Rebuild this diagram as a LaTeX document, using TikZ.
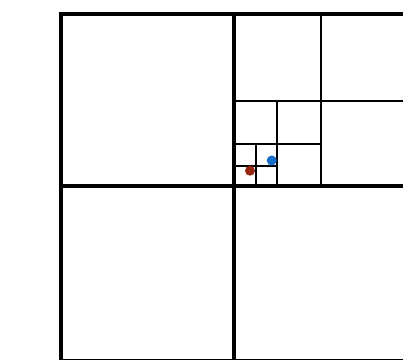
\documentclass[tikz,border=0pt]{standalone}
\definecolor{dotblue}{RGB}{22,110,200}
\definecolor{dotred}{RGB}{150,38,18}
\tikzset{
  thickline/.style={line width=3.6pt, line cap=rect},
  thinline/.style={line width=2pt},
  dot/.style={circle, inner sep=0pt, minimum size=10pt}
}
\begin{document}
\begin{tikzpicture}[x=1pt,y=-1pt]
\useasboundingbox (0,0) rectangle (403,359);
\fill[white] (0,0) rectangle (403,359);
\begin{scope}
\clip (0,0) rectangle (403,359);
% finer subdivisions
\draw[thinline] (320.5,14) -- (320.5,186);
\draw[thinline] (234,100.5) -- (407,100.5);
\draw[thinline] (277,100.5) -- (277,186);
\draw[thinline] (234,143.5) -- (320.5,143.5);
\draw[thinline] (255.7,143.5) -- (255.7,186);
\draw[thinline] (234,166) -- (277,166);
% main grid
\draw[thickline] (61,14) rectangle (407,360.6);
\draw[thickline] (234,14) -- (234,360.6);
\draw[thickline] (61,186) -- (407,186);
\end{scope}
\node[dot, fill=dotblue] (b) at (271.7,160.5) {};
\node[dot, fill=dotred] (r) at (250,170.7) {};
\end{tikzpicture}
\end{document}
